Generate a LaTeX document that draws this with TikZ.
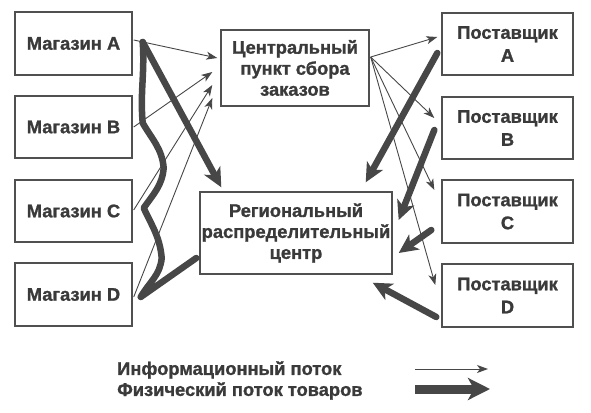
\documentclass[tikz,border=0pt]{standalone}
\usepackage{fontspec}
\setmainfont{Liberation Sans}
\newfontfamily\heavy[FakeBold=1.2]{Liberation Sans Bold}
\usetikzlibrary{arrows.meta,calc}
\definecolor{txt}{HTML}{3A3A3A}
\definecolor{edge}{HTML}{505050}
\definecolor{flow}{HTML}{474747}
\tikzset{
  box/.style={draw=edge,line width=1.4pt,rectangle,inner sep=0pt,align=center,
    text=txt,font=\heavy\fontsize{18.3}{21}\selectfont},
  sbox/.style={box,font=\heavy\fontsize{18.3}{23}\selectfont},
  info/.style={draw=flow,line width=0.9pt,-{Stealth[length=11pt,width=8pt,inset=3pt]}},
  phys/.style={draw=flow,line width=6.5pt,line cap=round,-{Stealth[length=19pt,width=18pt,inset=5pt]}},
  physline/.style={draw=flow,line width=6.5pt,line cap=round,line join=round},
  legend/.style={anchor=west,inner sep=0pt,text=txt,font=\heavy\fontsize{18.3}{21}\selectfont}
}
\begin{document}
\begin{tikzpicture}[x=1pt,y=-1pt]
\useasboundingbox (0,0) rectangle (591,412);
% boxes
\node[box,minimum width=117pt,minimum height=63pt] (mA) at (73.5,43.5) {Магазин A};
\node[box,minimum width=117pt,minimum height=62pt] (mB) at (73.5,127) {Магазин B};
\node[box,minimum width=117pt,minimum height=62pt] (mC) at (73.5,211) {Магазин C};
\node[box,minimum width=117pt,minimum height=63pt] (mD) at (73.5,294.5) {Магазин D};
\node[box,minimum width=148pt,minimum height=76pt] (cen) at (295,68) {Центральный\\пункт сбора\\заказов};
\node[box,minimum width=192pt,minimum height=82pt] (reg) at (296,233) {Региональный\\распределительный\\центр};
\node[sbox,minimum width=131pt,minimum height=62pt] (pA) at (507.5,44) {Поставщик\\A};
\node[sbox,minimum width=131pt,minimum height=62pt] (pB) at (507.5,128) {Поставщик\\B};
\node[sbox,minimum width=131pt,minimum height=63pt] (pC) at (507.5,211.5) {Поставщик\\C};
\node[sbox,minimum width=131pt,minimum height=63pt] (pD) at (507.5,295.5) {Поставщик\\D};
% physical flows from shops
\draw[physline] ($(mA.east)+(10,-1.5)$) to[out=-86,in=95] ($(mB.east)+(10,-4)$)
  to[out=-60,in=95] ($(mB.east)+(31,41)$) to[out=-95,in=55] ($(mC.east)+(11,-3)$)
  to[out=-65,in=95] ($(mC.east)+(29,47)$) to[out=-95,in=60] ($(mD.east)+(8,2.5)$)
  -- ($(reg.west)+(-3,25)$);
\draw[phys] ($(mA.east)+(10,-1.5)$) -- ($(reg.north west)+(22,-4)$);
% information flows from shops
\draw[info] ($(mA.east)+(1,-3.5)$) -- ($(cen.west)+(-3,-10)$);
\draw[info] ($(mB.east)+(1,0)$) -- ($(cen.west)+(-8,4)$);
\draw[info] ($(mC.east)+(1,-1)$) -- ($(cen.west)+(-8,17)$);
\draw[info] ($(mD.east)+(1,2.5)$) -- ($(cen.west)+(-8,30)$);
% information flows to suppliers
\draw[info] ($(cen.east)+(1,-11)$) -- ($(pA.west)+(-4,-7)$);
\draw[info] ($(cen.east)+(1,-11)$) -- ($(pB.west)+(-7,-10)$);
\draw[info] ($(cen.east)+(1,-11)$) -- ($(pC.west)+(-7,-21.5)$);
\draw[info] ($(cen.east)+(1,-11)$) -- ($(pD.west)+(-6,-10.5)$);
% physical flows from suppliers
\draw[phys] ($(pA.west)+(-4,9)$) -- ($(reg.north east)+(-27,-9)$);
\draw[phys] ($(pB.west)+(-7,2)$) -- ($(reg.east)+(6,-13)$);
\draw[phys] ($(pC.west)+(-10,18.5)$) -- ($(reg.east)+(6,20)$);
\draw[phys] ($(pD.west)+(-5,21.5)$) -- ($(reg.south east)+(-20,8)$);
% legend
\node[legend] (l1) at (117,370) {Информационный поток};
\node[legend] (l2) at (117,391) {Физический поток товаров};
\coordinate (l1s) at (415,369);
\coordinate (l1e) at (488,369);
\coordinate (l2s) at (415,389);
\coordinate (l2e) at (490,389);
\draw[info] (l1s) -- (l1e);
\draw[phys,line width=9pt,line cap=butt,-{Stealth[length=22pt,width=22pt,inset=6pt]}] (l2s) -- (l2e);
\end{tikzpicture}
\end{document}
